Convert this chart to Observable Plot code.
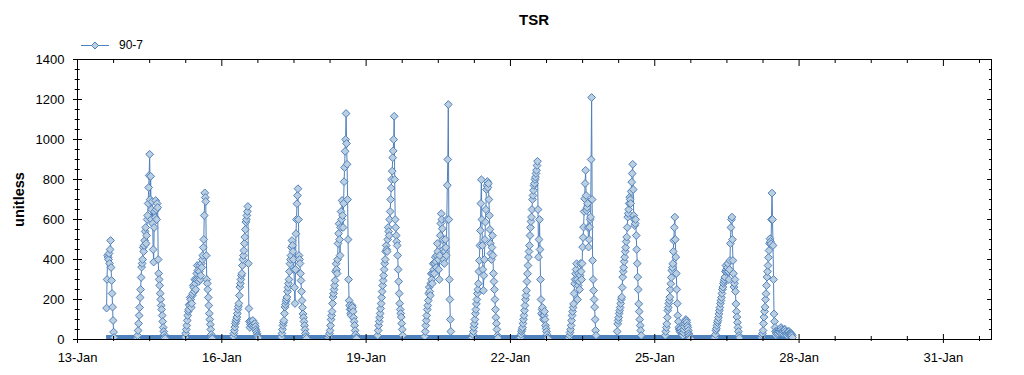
<!DOCTYPE html>
<html>
<head>
<meta charset="utf-8">
<script src="https://cdn.jsdelivr.net/npm/d3@7"></script>
<script src="https://cdn.jsdelivr.net/npm/@observablehq/plot@0.6"></script>
<style>
  body { margin: 0; background: #fff; font-family: "Liberation Sans", Arial, sans-serif; }
  #wrap { width: 1024px; height: 375px; overflow: hidden; }
  #title { height: 36px; line-height: 40px; font-size: 15px; font-weight: bold; text-align: center;
           padding: 0 33px 0 77px; box-sizing: border-box; color: #000; }
  #legend { height: 12px; position: relative; top: 3px; display: flex; align-items: center; font-size: 12px; color: #000; }
  #legend svg { margin-left: 80px; margin-right: 9px; }
  g[aria-label="y-axis label"] text { font-weight: bold; font-size: 14.5px; }
</style>
</head>
<body>
<div id="wrap">
  <div id="title"></div>
  <div id="legend"></div>
  <div id="chart"></div>
</div>
<script>
// ---- data (15-minute readings in daytime; each day's list starts at startHour) ----
const seriesName = "90-7";
const chartTitle = "TSR";
const yLabel = "unitless";
const stepHours = 0.25;
const days      = [13, 14, 15, 16, 17, 18, 19, 20, 21, 22, 23, 24, 25, 26, 27];
const startHour = [14.5, 5.5, 5.5, 5.5, 5.5, 5.0, 5.5, 5.0, 4.5, 4.5, 5.0, 5.0, 5.0, 5.5, 5.0];
const v13 = [157,300,420,410,400,430,380,450,495,360,295,230,162,95,37,10,0];
const v14 = [0,8,20,45,80,120,160,210,250,310,362,380,400,460,440,470,495,540,560,480,520,600,620,680,760,820,926,700,816,600,650,690,580,450,387,560,640,610,695,650,600,680,660,400,330,300,270,230,200,170,150,120,90,60,40,25,10,5,0];
const v15 = [0,12,30,50,70,95,120,140,150,175,170,210,200,160,180,220,230,270,260,240,300,280,250,300,330,370,345,300,290,340,370,300,320,380,360,400,420,460,500,620,733,710,690,420,300,280,250,210,170,130,100,75,50,25,10,4,0];
const v16 = [0,15,30,45,62,80,90,100,112,130,150,165,180,220,262,280,300,320,330,370,400,420,445,480,512,550,587,600,620,640,665,380,155,90,60,75,90,80,70,85,95,75,60,70,80,65,50,40,30,20,15,8,0];
const v17 = [0,12,30,50,70,85,95,130,162,175,190,200,212,240,260,280,300,340,379,400,420,460,495,470,440,400,350,260,180,350,529,600,679,720,754,600,420,400,380,330,295,240,195,160,128,110,90,70,50,30,15,6,0];
const v18 = [0,10,20,30,45,70,100,120,140,180,212,230,250,270,295,340,379,350,330,400,480,530,579,500,420,560,640,600,695,620,560,680,789,860,941,1000,1130,980,876,700,500,300,195,170,150,130,120,150,170,160,140,110,90,70,45,25,10,5,0];
const v19 = [0,20,45,70,90,110,130,155,180,210,240,270,295,320,350,380,400,440,470,450,440,500,560,540,520,600,640,700,757,800,842,909,943,1000,1116,800,600,560,520,490,470,420,350,290,230,180,150,130,112,80,50,20,0];
const v20 = [0,15,40,70,95,120,150,170,195,230,262,240,220,280,329,300,280,330,379,350,330,380,412,390,360,420,480,440,400,350,300,420,520,580,629,600,554,500,450,400,380,440,500,460,420,600,771,900,1175,600,300,200,100,40,0];
const v21 = [0,5,10,25,40,60,78,100,130,150,178,200,230,250,279,340,395,470,545,680,799,600,470,350,245,320,400,500,587,650,750,770,790,760,780,700,620,550,480,430,400,460,520,420,330,290,250,200,150,110,80,50,20,8,0];
const v22 = [0,5,10,25,40,50,60,80,100,120,145,170,200,220,245,290,329,370,412,440,470,520,560,590,612,650,700,720,746,770,780,800,812,830,846,870,891,650,412,500,600,450,300,200,130,150,160,120,100,120,140,100,70,55,40,25,10,5,0];
const v23 = [0,8,20,35,50,70,95,120,140,160,178,230,279,300,329,350,379,300,200,270,330,290,250,320,380,340,300,380,462,510,562,640,704,780,846,720,645,660,680,560,462,500,562,600,612,900,1210,700,395,300,245,200,162,100,45,20,0];
const v24 = [0,40,78,95,110,130,145,160,180,200,212,260,312,340,360,390,412,440,460,490,512,560,612,630,650,680,712,700,680,740,787,830,876,750,620,600,570,580,600,520,450,380,312,250,178,140,100,70,45,20,0];
const v25 = [0,20,40,60,78,110,145,160,180,195,212,250,279,310,345,360,379,440,495,560,612,500,412,330,250,180,120,90,60,50,40,50,55,40,30,25,20,35,50,65,80,90,100,95,85,70,60,45,30,20,10,5,0];
const v26 = [0,5,10,25,45,55,70,85,95,110,128,145,160,180,195,210,230,250,262,280,290,300,312,340,370,350,340,360,380,340,300,350,395,480,560,600,612,500,395,330,262,280,300,240,178,140,112,85,60,40,20,8,0];
const v27 = [0,10,20,30,45,80,112,140,162,200,229,270,312,340,370,410,445,480,504,490,479,600,732,600,470,300,128,90,60,40,20,30,40,35,30,40,50,40,35,50,60,50,40,35,30,40,45,50,50,40,30,25,20,30,35,40,40,30,25,30,30,25,20,10,0];
const dayValues = [v13,v14,v15,v16,v17,v18,v19,v20,v21,v22,v23,v24,v25,v26,v27];
const xTickLabels = ["13-Jan","16-Jan","19-Jan","22-Jan","25-Jan","28-Jan","31-Jan"];
const yMajor = [0,200,400,600,800,1000,1200,1400];

// ---- build table ----
const YEAR = 2014;
const table = [];
days.forEach((d, i) => {
  dayValues[i].forEach((v, j) => {
    table.push({t: new Date(Date.UTC(YEAR, 0, d) + (startHour[i] + j * stepHours) * 3600e3), v});
  });
});
const x0 = new Date(Date.UTC(YEAR, 0, 13));
const x1 = new Date(Date.UTC(YEAR, 1, 1));
const xMajor = xTickLabels.map(s => new Date(Date.UTC(YEAR, 0, +s.split("-")[0])));
const xMinor = d3.range(0, 26).map(k => new Date(+x0 + k * 18 * 3600e3)).filter(d => d.getUTCHours() !== 0 || (d.getUTCDate() - 13) % 3 !== 0);
const yMinor = d3.range(0, 1401, 50).filter(v => v % 200 !== 0);

const blue = "#4f81bd";
const fillC = "#bccfe0";
const none = () => "";

document.getElementById("title").textContent = chartTitle;
document.getElementById("legend").innerHTML =
  `<svg width="30" height="12"><line x1="1" x2="29" y1="6.5" y2="6.5" stroke="${blue}"/>` +
  `<path d="M15,3 L18.5,6.5 L15,10 L11.5,6.5Z" fill="${fillC}" stroke="${blue}"/></svg><span>${seriesName}</span>`;

const band = [{y: 0, a: table[0].t, b: table[table.length - 1].t}];

const chart = Plot.plot({
  width: 1024,
  height: 327,
  marginLeft: 77,
  marginRight: 33,
  marginTop: 11,
  marginBottom: 36,
  style: {fontFamily: "'Liberation Sans', Arial, sans-serif", fontSize: "13px", color: "#000", background: "#fff"},
  x: {type: "utc", domain: [x0, x1]},
  y: {domain: [0, 1400]},
  marks: [
    Plot.ruleY(band, {y: "y", x1: "a", x2: "b", stroke: blue, strokeWidth: 4, dy: -2.5}),
    Plot.line(table, {x: "t", y: "v", stroke: blue, strokeWidth: 1, clip: true}),
    Plot.dot(table.filter(d => d.v > 0), {x: "t", y: "v", symbol: "diamond2", r: 3.5, fill: fillC, stroke: blue, strokeWidth: 1, clip: true}),
    Plot.frame({stroke: "#000"}),
    // bottom
    Plot.axisX({ticks: xMajor, tickSize: 9, dy: -5, tickFormat: none, label: null}),
    Plot.axisX({ticks: xMinor, tickSize: 5, dy: -3, tickFormat: none, label: null}),
    Plot.axisX({ticks: xMajor, tickSize: 0, tickPadding: 13, tickFormat: (d, i) => xTickLabels[i], label: null}),
    // top
    Plot.axisX({ticks: xMajor, anchor: "top", tickSize: 6, dy: 6, tickFormat: none, label: null}),
    Plot.axisX({ticks: xMinor, anchor: "top", tickSize: 3, dy: 3, tickFormat: none, label: null}),
    // left
    Plot.axisY({ticks: yMajor, tickSize: 9, dx: 5, tickFormat: none, label: null}),
    Plot.axisY({ticks: yMinor, tickSize: 5, dx: 2.7, tickFormat: none, label: null}),
    Plot.axisY({ticks: yMajor, tickSize: 0, tickPadding: 13, tickFormat: d3.format("d"), label: yLabel, labelAnchor: "center", labelOffset: 64, labelArrow: "none"}),
    // right
    Plot.axisY({ticks: yMajor, anchor: "right", tickSize: 5, dx: -5, tickFormat: none, label: null}),
    Plot.axisY({ticks: yMinor, anchor: "right", tickSize: 3, dx: -3, tickFormat: none, label: null})
  ]
});
document.getElementById("chart").appendChild(chart);
</script>
</body>
</html>
